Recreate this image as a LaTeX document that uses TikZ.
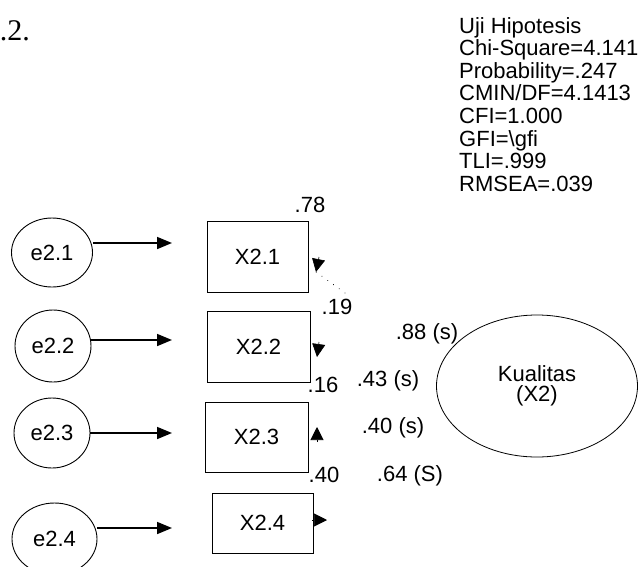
\documentclass[tikz,border=0pt]{standalone}
\usepackage{fontspec}
\setmainfont{Liberation Sans}
\newfontfamily\seriffont{Liberation Serif}
\usetikzlibrary{shapes.geometric,arrows.meta}
\begin{document}
\begin{tikzpicture}[x=1pt,y=-1pt,
  lab/.style={inner sep=0pt, font=\fontsize{22}{22}\selectfont},
  err/.style={ellipse, draw, line width=0.9pt, inner sep=0pt, font=\fontsize{22}{22}\selectfont},
  obs/.style={rectangle, draw, line width=0.9pt, inner sep=0pt, font=\fontsize{22}{22}\selectfont},
  arr/.style={line width=1.7pt, -{Triangle[length=15pt,width=12pt]}},
  tipx/.style={line width=0.6pt, -{Triangle[length=13pt,width=13pt]}},
  stat/.style={anchor=base west, inner sep=0pt, font=\fontsize{22}{22}\selectfont}]
\useasboundingbox (0,0) rectangle (638,566);

% title fragment
\node[anchor=base east, inner sep=0pt, font=\seriffont\fontsize{30}{30}\selectfont] (ttl) at (30,40) {.2.};

% statistics
\foreach \t [count=\i] in {Uji Hipotesis, Chi-Square=4.141, Probability=.247, CMIN/DF=4.1413, CFI=1.000, GFI=\textbackslash gfi, TLI=.999, RMSEA=.039}
  \node[stat] (s\i) at (459, {33+22.6*(\i-1)}) {\t};

% error terms
\node[err, minimum width=81pt, minimum height=69pt] (e1) at (52,252.5) {e2.1};
\node[err, minimum width=76pt, minimum height=72pt] (e2) at (53,346) {e2.2};
\node[err, minimum width=76pt, minimum height=70pt] (e3) at (52,433) {e2.3};
\node[err, minimum width=85pt, minimum height=72pt] (e4) at (54.5,539) {e2.4};

% observed variables
\node[obs, minimum width=101pt, minimum height=71pt] (x1) at (257.5,256.5) {X2.1};
\node[obs, minimum width=103pt, minimum height=71pt] (x2) at (258.5,346.5) {X2.2};
\node[obs, minimum width=103pt, minimum height=70pt] (x3) at (256.5,437) {X2.3};
\node[obs, minimum width=101pt, minimum height=60pt] (x4) at (262.5,523) {X2.4};

% latent variable
\node[ellipse, draw, line width=0.8pt, minimum width=201pt, minimum height=142pt, inner sep=0pt,
      align=center, font=\fontsize{22}{20}\selectfont] (k) at (537,386) {Kualitas\\(X2)};

% arrows from errors
\coordinate (t1) at (172,243);
\coordinate (t2) at (172,340);
\coordinate (t3) at (172,433);
\coordinate (t4) at (172,528);
\draw[arr] (t1 -| e1.east) -- (t1);
\draw[arr] (t2 -| e2.east) -- (t2);
\draw[arr] (t3 -| e3.east) -- (t3);
\draw[arr] (t4 -| e4.east) -- (t4);

% arrowheads at the indicators
\coordinate (a1s) at (319,257); \coordinate (a1e) at (316,272);
\coordinate (a2s) at (319,342); \coordinate (a2e) at (317,357);
\coordinate (a3s) at (317,442); \coordinate (a3e) at (317,427);
\coordinate (a4s) at (312,520); \coordinate (a4e) at (327,520);
\draw[tipx] (a1s) -- (a1e);
\draw[tipx] (a2s) -- (a2e);
\draw[tipx] (a3s) -- (a3e);
\draw[tipx] (a4s) -- (a4e);
\coordinate (d1) at (345,293);
\draw[line width=1pt, line cap=round, dash pattern=on 0.1pt off 7pt] (d1) -- (a1e);

% estimates
\node[lab] (l78) at (310,205) {.78};
\node[lab] (l19) at (337,307) {.19};
\node[lab] (l88) at (427,334) {.88 (s)};
\node[lab] (l16) at (323,385) {.16};
\node[lab] (l43) at (388,381) {.43 (s)};
\node[lab] (l40s) at (393,428) {.40 (s)};
\node[lab] (l40) at (324,475) {.40};
\node[lab] (l64) at (410,476) {.64 (S)};
\end{tikzpicture}
\end{document}
